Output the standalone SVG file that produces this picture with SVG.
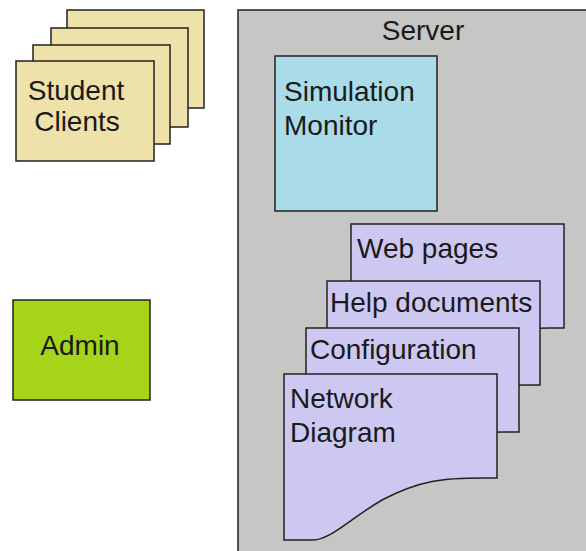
<svg xmlns="http://www.w3.org/2000/svg" xmlns:xlink="http://www.w3.org/1999/xlink" width="586" height="551" viewBox="0 0 586 551">
  <style>
    .box { stroke: #222; stroke-width: 1.5; }
    .card { fill: #efe1aa; }
    .label { font-family: "Liberation Sans", Arial, sans-serif; font-size: 28px; fill: #1a1a1a; }
    .doc { fill: #cdc8f2; stroke: #222; stroke-width: 1.5; }
  </style>
  <defs>
    <!-- document shape: flat top, wavy bottom edge rising to the right -->
    <path id="docShape" d="M0,0 H213 V104 H199 C160,104 136,106 98,126 C64,146 46,166 29,166 H0 Z"/>
  </defs>

  <rect width="586" height="551" fill="#ffffff"/>

  <!-- server container -->
  <g id="server">
    <rect x="238" y="10" width="360" height="560" fill="#c6c6c4" class="box"/>
    <text x="423" y="40" text-anchor="middle" class="label">Server</text>
  </g>

  <!-- stacked client cards -->
  <g id="student-clients">
    <rect x="67" y="10" width="137" height="98" class="box card"/>
    <rect x="51" y="28" width="137" height="99" class="box card"/>
    <rect x="33" y="45" width="137" height="99" class="box card"/>
    <rect x="16" y="61" width="138" height="100" class="box card"/>
    <text x="76" y="100" text-anchor="middle" class="label">Student</text>
    <text x="77" y="131" text-anchor="middle" class="label">Clients</text>
  </g>

  <g id="admin">
    <rect x="13" y="300" width="137" height="100" fill="#a6d41a" class="box"/>
    <text x="80" y="355" text-anchor="middle" class="label">Admin</text>
  </g>

  <g id="simulation-monitor">
    <rect x="275" y="56" width="162" height="155" fill="#a9dbe8" class="box"/>
    <text x="284" y="101" class="label">Simulation</text>
    <text x="284" y="135" class="label">Monitor</text>
  </g>

  <g id="web-pages">
    <use xlink:href="#docShape" class="doc" transform="translate(351,224)"/>
    <text x="357" y="258" class="label">Web pages</text>
  </g>

  <g id="help-documents">
    <use xlink:href="#docShape" class="doc" transform="translate(327,281)"/>
    <text x="330" y="312" class="label">Help documents</text>
  </g>

  <g id="configuration">
    <use xlink:href="#docShape" class="doc" transform="translate(306,328)"/>
    <text x="310" y="359" class="label">Configuration</text>
  </g>

  <g id="network-diagram">
    <use xlink:href="#docShape" class="doc" transform="translate(284,374)"/>
    <text x="290" y="408" class="label">Network</text>
    <text x="290" y="442" class="label">Diagram</text>
  </g>

  <g id="connectors"/>
</svg>
